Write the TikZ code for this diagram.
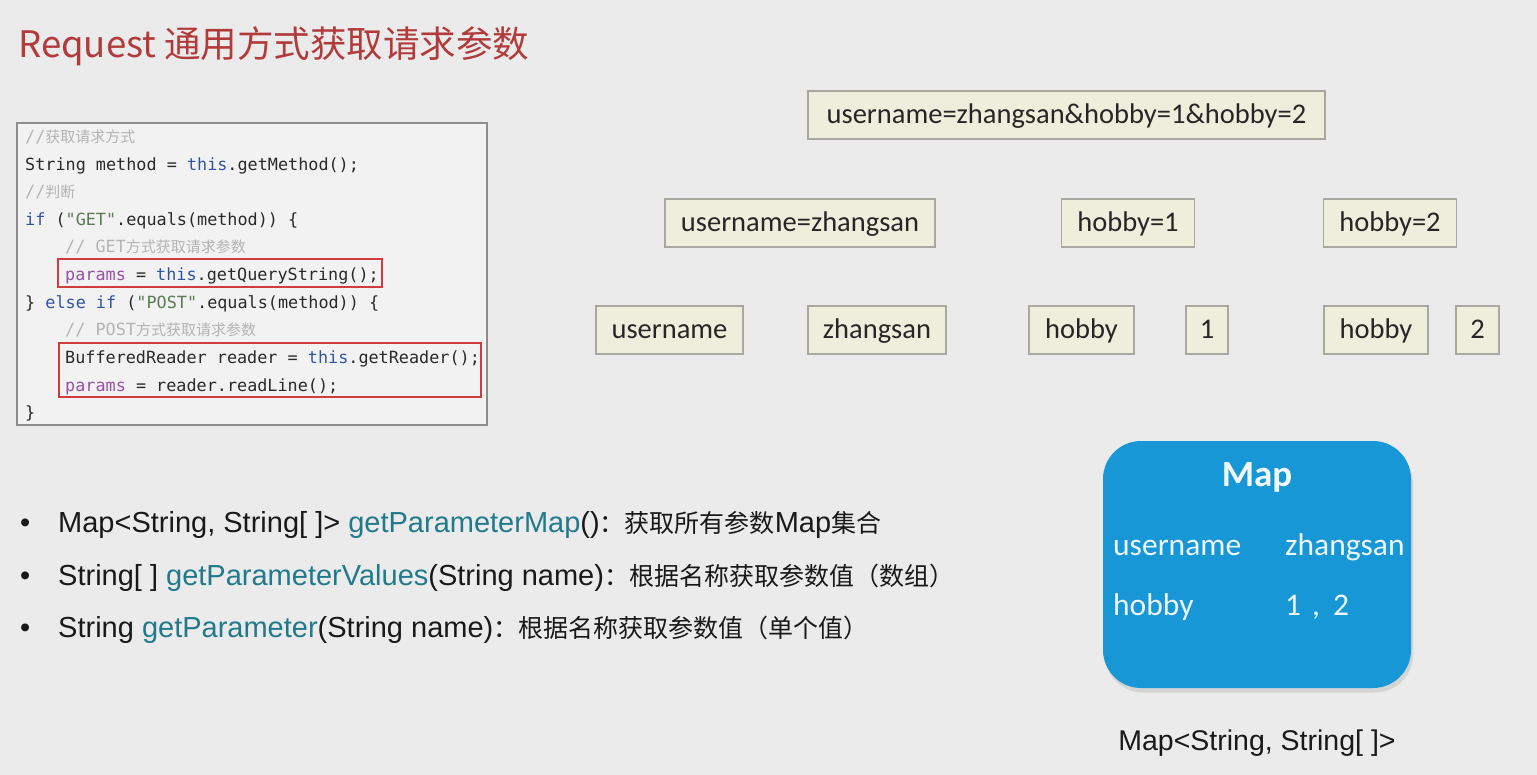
\documentclass[tikz,border=0pt]{standalone}
\usepackage{fontspec}
\setmainfont{Carlito}
\setmonofont{DejaVu Sans Mono}
\newfontfamily\cjk{Noto Sans CJK SC}
\newfontfamily\arialf{Liberation Sans}
\definecolor{bgc}{HTML}{EBEBEB}
\definecolor{cream}{HTML}{EEEEDC}
\definecolor{creamline}{HTML}{A8A8A0}
\definecolor{codeframe}{HTML}{8C8C8C}
\definecolor{codefill}{HTML}{F2F2F2}
\definecolor{redbox}{HTML}{D23C3C}
\definecolor{titlec}{HTML}{B23A3A}
\definecolor{tealc}{HTML}{217A8C}
\definecolor{mapblue}{HTML}{1897D6}
\definecolor{kwc}{HTML}{2F55A4}
\definecolor{paramc}{HTML}{9A4FA8}
\definecolor{strc}{HTML}{5B7B55}
\definecolor{commc}{HTML}{B4B4B4}
\definecolor{codetext}{HTML}{2A2A2A}
\newcommand{\kw}[1]{\textcolor{kwc}{#1}}
\newcommand{\pa}[1]{\textcolor{paramc}{#1}}
\newcommand{\st}[1]{\textcolor{strc}{#1}}
\newcommand{\tl}[1]{\textcolor{tealc}{#1}}
\newcommand{\cj}[1]{{\cjk\fontsize{25}{28}\selectfont #1}}
\begin{document}
\begin{tikzpicture}[x=1pt,y=-1pt,
  cbox/.style={draw=creamline, line width=1.4pt, fill=cream, inner sep=0pt,
    minimum height=48pt, text height=23pt, text depth=5pt,
    font=\fontsize{28.5}{30}\selectfont, text=black!85},
  codeln/.style={anchor=base west, inner sep=0pt, text=codetext,
    font=\ttfamily\fontsize{16.8}{18}\selectfont},
  redframe/.style={draw=redbox, line width=1.6pt, inner sep=0pt},
  bullet/.style={anchor=base west, inner sep=0pt, text=black!90,
    font=\arialf\fontsize{29}{31}\selectfont},
  maptext/.style={anchor=base west, inner sep=0pt, text=white!92!mapblue,
    font=\fontsize{31.5}{33}\selectfont}
]
\useasboundingbox (0,0) rectangle (1537,775);
\fill[bgc] (0,0) rectangle (1537,775);

% title
\node[anchor=base west, inner sep=0pt, text=titlec, font=\cjk\fontsize{36.5}{40}\selectfont]
  (title) at (18,58) {Request 通用方式获取请求参数};

% code box
\node[draw=codeframe, line width=1.8pt, fill=codefill, minimum width=470pt,
  minimum height=302pt, inner sep=0pt] (codebox) at (252,274) {};
\node[codeln, text=commc] (c1) at (25,143) {//{\cjk\fontsize{15}{16}\selectfont 获取请求方式}};
\node[codeln] (c2) at (25,171) {String method = \kw{this}.getMethod();};
\node[codeln, text=commc] (c3) at (25,198) {//{\cjk\fontsize{15}{16}\selectfont 判断}};
\node[codeln] (c4) at (25,226) {\kw{if} (\st{"GET"}.equals(method)) \{};
\node[codeln, text=commc] (c5) at (65,253) {// GET{\cjk\fontsize{15}{16}\selectfont 方式获取请求参数}};
\node[codeln] (c6) at (65,281) {\pa{params} = \kw{this}.getQueryString();};
\node[codeln] (c7) at (25,309) {\} \kw{else if} (\st{"POST"}.equals(method)) \{};
\node[codeln, text=commc] (c8) at (65,336) {// POST{\cjk\fontsize{15}{16}\selectfont 方式获取请求参数}};
\node[codeln] (c9) at (65,364) {BufferedReader reader = \kw{this}.getReader();};
\node[codeln] (c10) at (65,392) {\pa{params} = reader.readLine();};
\node[codeln] (c11) at (25,419) {\}};
\node[redframe, minimum width=324pt, minimum height=28pt] (r1) at (220,273) {};
\node[redframe, minimum width=422pt, minimum height=54pt] (r2) at (270,370) {};

% parameter boxes
\node[cbox, minimum width=517pt] (full) at (1066.5,115) {username=zhangsan\&hobby=1\&hobby=2};
\node[cbox, minimum width=270pt] (p1) at (800,223) {username=zhangsan};
\node[cbox, minimum width=133pt] (p2) at (1128,223) {hobby=1};
\node[cbox, minimum width=133pt] (p3) at (1390,223) {hobby=2};
\node[cbox, minimum width=147pt] (k1) at (669.5,330) {username};
\node[cbox, minimum width=138pt] (v1) at (877,330) {zhangsan};
\node[cbox, minimum width=105pt] (k2) at (1081.5,330) {hobby};
\node[cbox, minimum width=42pt] (v2) at (1207,330) {1};
\node[cbox, minimum width=104pt] (k3) at (1376,330) {hobby};
\node[cbox, minimum width=43pt] (v3) at (1477.5,330) {2};

% bullets
\node[bullet] (b1) at (20,532) {•};
\node[bullet] (l1) at (58,532) {Map<String, String[ ]> \tl{getParameterMap}()\cj{：获取所有参数}Map\cj{集合}};
\node[bullet] (b2) at (20,585) {•};
\node[bullet] (l2) at (58,585) {String[ ] \tl{getParameterValues}(String name)\cj{：根据名称获取参数值（数组）}};
\node[bullet] (b3) at (20,637) {•};
\node[bullet] (l3) at (58,637) {String \tl{getParameter}(String name)\cj{：根据名称获取参数值（单个值）}};

% map
\node[fill=black!17, rounded corners=38pt, minimum width=308pt, minimum height=247pt,
  inner sep=0pt] (mapshadow) at (1259,569) {};
\node[fill=mapblue, rounded corners=38pt, minimum width=308pt, minimum height=247pt,
  inner sep=0pt] (map) at (1257,564.5) {};
\node[inner sep=0pt, text=white!94!mapblue, font=\bfseries\fontsize{37}{40}\selectfont]
  (maptitle) at (1257,477) {Map};
\node[maptext] (mk1) at (1113,555) {username};
\node[maptext] (mv1) at (1285,555) {zhangsan};
\node[maptext] (mk2) at (1113,615) {hobby};
\node[maptext] (mv2) at (1285,615) {1\hspace{11pt},\hspace{13pt}2};
\node[inner sep=0pt, text=black!90, font=\arialf\fontsize{28.5}{30}\selectfont]
  (mapcap) at (1257,743) {Map<String, String[ ]>};
\end{tikzpicture}
\end{document}
